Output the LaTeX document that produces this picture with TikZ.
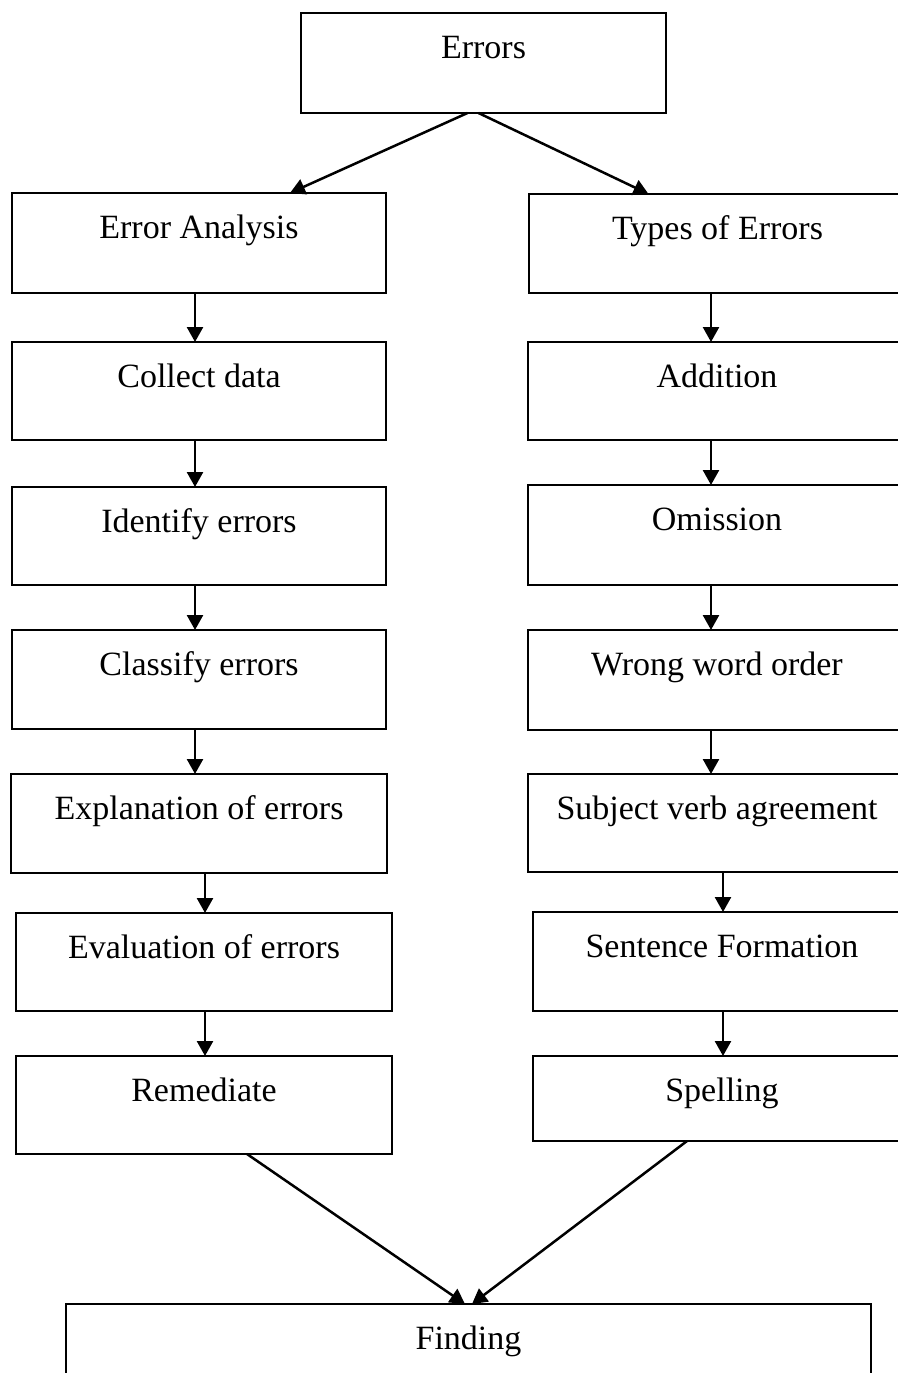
\documentclass[tikz,border=0pt]{standalone}
\usepackage{fontspec}
\setmainfont{Liberation Serif}
\usetikzlibrary{arrows.meta,calc}
\tikzset{
  box/.style 2 args={draw, line width=2pt, inner sep=0pt, outer sep=0pt,
    anchor=north west, minimum width=#1, text height=45pt, text depth=#2,
    font=\fontsize{34}{40}\selectfont},
  arr/.style={line width=2.5pt, -{Triangle[length=15pt,width=16pt]}}
}
\begin{document}
\begin{tikzpicture}[x=1pt,y=-1pt]
\useasboundingbox (0,0) rectangle (897,1373);
% top
\node[box={365pt}{55pt}] (err) at (301,13) {Errors};
% left column
\node[box={374pt}{55pt}] (ea) at (12,193) {Error Analysis};
\node[box={374pt}{53pt}] (cd) at (12,342) {Collect data};
\node[box={374pt}{53pt}] (ie) at (12,487) {Identify errors};
\node[box={374pt}{54pt}] (ce) at (12,630) {Classify errors};
\node[box={376pt}{54pt}] (ex) at (11,774) {Explanation of errors};
\node[box={376pt}{53pt}] (ev) at (16,913) {Evaluation of errors};
\node[box={376pt}{53pt}] (re) at (16,1056) {Remediate};
% right column
\node[box={377pt}{54pt}] (te) at (529,194) {Types of Errors};
\node[box={378pt}{53pt}] (ad) at (528,342) {Addition};
\node[box={378pt}{55pt}] (om) at (528,485) {Omission};
\node[box={378pt}{55pt}] (ww) at (528,630) {Wrong word order};
\node[box={378pt}{53pt}] (sv) at (528,774) {Subject verb agreement};
\node[box={378pt}{54pt}] (sf) at (533,912) {Sentence Formation};
\node[box={378pt}{40pt}] (sp) at (533,1056) {Spelling};
% bottom
\node[box={805pt}{75pt}] (fi) at (66,1304) {Finding};
% column x positions
\coordinate (xa) at (195,0);
\coordinate (xb) at (205,0);
\coordinate (xc) at (711,0);
\coordinate (xd) at (723,0);
% top arrows
\draw[arr] ($(err.south)+(-16,0)$) -- ($(ea.north)+(91,0)$);
\draw[arr] ($(err.south)+(-5,0)$) -- ($(te.north)+(-69,0)$);
% left arrows
\draw[arr] (xa |- ea.south) -- (xa |- cd.north);
\draw[arr] (xa |- cd.south) -- (xa |- ie.north);
\draw[arr] (xa |- ie.south) -- (xa |- ce.north);
\draw[arr] (xa |- ce.south) -- (xa |- ex.north);
\draw[arr] (xb |- ex.south) -- (xb |- ev.north);
\draw[arr] (xb |- ev.south) -- (xb |- re.north);
% right arrows
\draw[arr] (xc |- te.south) -- (xc |- ad.north);
\draw[arr] (xc |- ad.south) -- (xc |- om.north);
\draw[arr] (xc |- om.south) -- (xc |- ww.north);
\draw[arr] (xc |- ww.south) -- (xc |- sv.north);
\draw[arr] (xd |- sv.south) -- (xd |- sf.north);
\draw[arr] (xd |- sf.south) -- (xd |- sp.north);
% bottom arrows
\draw[arr] ($(re.south)+(43,0)$) -- ($(fi.north)+(-3.5,0)$);
\draw[arr] ($(sp.south)+(-35,0)$) -- ($(fi.north)+(3.5,0)$);
\end{tikzpicture}
\end{document}
